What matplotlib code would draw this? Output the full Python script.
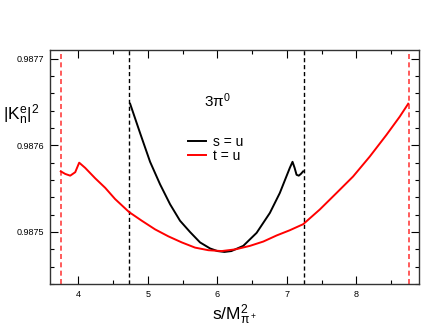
import matplotlib
matplotlib.use("Agg")
import matplotlib.pyplot as plt
from matplotlib.ticker import MultipleLocator, FixedLocator

plt.rcParams['font.family'] = ['Liberation Sans', 'DejaVu Sans']
plt.rcParams['mathtext.fontset'] = 'custom'
plt.rcParams['mathtext.rm'] = 'Liberation Sans'
plt.rcParams['mathtext.it'] = 'Liberation Sans:italic'
plt.rcParams['mathtext.default'] = 'regular'

# t = u curve (red)
s_tu = [3.745, 3.809, 3.881, 3.953, 4.010, 4.096, 4.240, 4.384, 4.527, 4.728,
        4.911, 5.103, 5.293, 5.486, 5.677, 5.868, 6.060, 6.260, 6.467, 6.660,
        6.851, 7.040, 7.233, 7.473, 7.713, 7.951, 8.191, 8.431, 8.622, 8.745]
k_tu = [0.987570, 0.987567, 0.987565, 0.987569, 0.987580, 0.987574, 0.987562,
        0.987551, 0.987538, 0.987523, 0.987513, 0.987503, 0.987495, 0.987488,
        0.987482, 0.987479, 0.987478, 0.987480, 0.987484, 0.987489, 0.987496,
        0.987502, 0.987509, 0.987526, 0.987545, 0.987564, 0.987587, 0.987612,
        0.987633, 0.987648]

# s = u curve (black)
s_su = [4.743, 4.887, 5.030, 5.174, 5.318, 5.461, 5.605, 5.749, 5.894, 6.000,
        6.100, 6.200, 6.371, 6.563, 6.754, 6.897, 7.041, 7.080, 7.110, 7.138,
        7.170, 7.200, 7.233]
k_su = [0.987648, 0.987614, 0.987581, 0.987555, 0.987532, 0.987513, 0.987500,
        0.987488, 0.987481, 0.987478, 0.987477, 0.987478, 0.987484, 0.987499,
        0.987522, 0.987545, 0.987574, 0.987581, 0.987574, 0.987566, 0.987565,
        0.987567, 0.987570]

black_bounds = [4.73, 7.24]
red_bounds = [3.742, 8.75]

fig = plt.figure(figsize=(4.47, 3.35), dpi=100)
ax = fig.add_axes([50/447, 1-284/335, (419-50)/447, (284-50)/335])

for b in black_bounds:
    ax.axvline(b, color='black', lw=1.0, ls=(0, (3, 2)))
for b in red_bounds:
    ax.axvline(b, color='#ff4040', lw=1.2, ls=(0, (3, 2)))

ax.plot(s_su, k_su, color='black', lw=1.4, label='s = u')
ax.plot(s_tu, k_tu, color='red', lw=1.4, label='t = u')

ax.set_xlim(3.59, 8.9)
ax.set_ylim(0.98744, 0.98771)
ax.xaxis.set_major_locator(FixedLocator([4, 5, 6, 7, 8]))
ax.xaxis.set_minor_locator(MultipleLocator(0.5))
ax.yaxis.set_major_locator(FixedLocator([0.9875, 0.9876, 0.9877]))
ax.yaxis.set_minor_locator(MultipleLocator(0.00002))
ax.set_yticklabels(['0.9875', '0.9876', '0.9877'])
ax.tick_params(which='both', direction='in', top=True, right=True,
               labelsize=6.5, pad=4)
ax.tick_params(which='major', length=6, width=0.8)
ax.tick_params(which='minor', length=3, width=0.8)
for sp in ax.spines.values():
    sp.set_linewidth(1.0)
    sp.set_color('#333333')

ax.set_xlabel(r'$s/M_{\pi^+}^2$', fontsize=12.5, labelpad=3)
fig.text(3/447, 1-115/335, r'$|K_n^e|^2$', fontsize=12.5, ha='left', va='center')

ax.text(6.0, 0.987652, r'3π$^0$', fontsize=11, ha='center', va='center')

ax.legend(loc='center left', bbox_to_anchor=((188-50)/369, 1-(149-50)/234),
          frameon=False, fontsize=10, handlelength=1.3, handletextpad=0.5,
          labelspacing=0.05, borderpad=0, borderaxespad=0)

fig.savefig('out.png', dpi=100)
